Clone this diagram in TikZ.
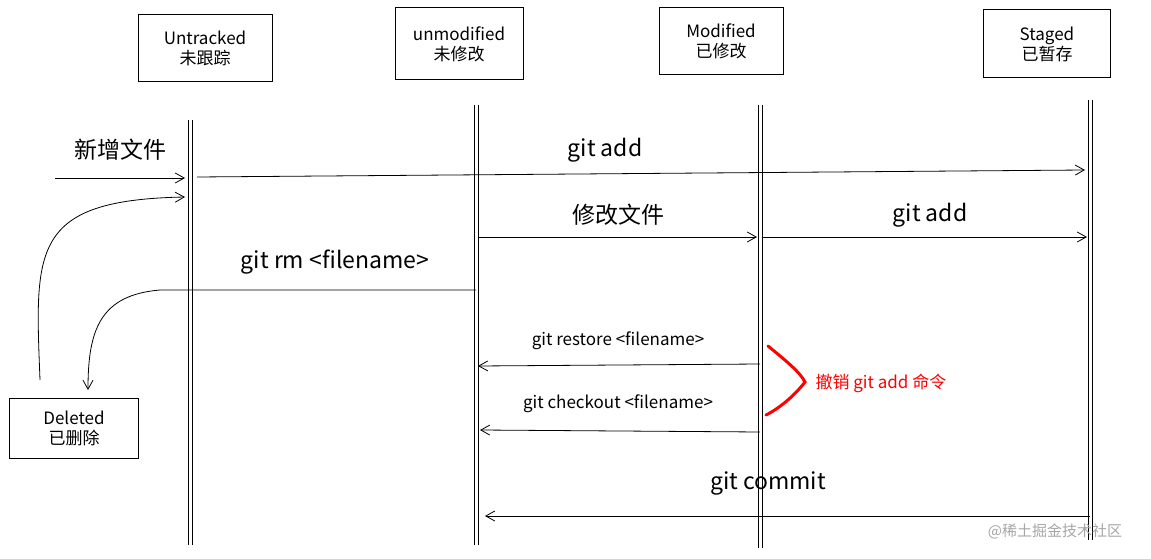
\documentclass[tikz,border=0pt]{standalone}
\usepackage{fontspec}
\setmainfont{Noto Sans CJK SC}
\usetikzlibrary{arrows.meta}
\begin{document}
\begin{tikzpicture}[x=1pt,y=-1pt,
  box/.style={draw,line width=1pt,align=center,font=\fontsize{17}{20}\selectfont,inner sep=0pt},
  life/.style={line width=1.1pt},
  msg/.style={line width=0.8pt,-{Straight Barb[length=9pt,width=10pt]}},
  lab/.style={font=\fontsize{23}{25}\selectfont},
  slab/.style={font=\fontsize{17}{19}\selectfont}]
\useasboundingbox (0,0) rectangle (1151,559);
\node[box,minimum width=134pt,minimum height=67pt] (ut) at (205,48) {Untracked\\未跟踪};
\node[box,minimum width=128pt,minimum height=72pt] (um) at (459,44) {unmodified\\未修改};
\node[box,minimum width=124pt,minimum height=67pt] (md) at (721,41) {Modified\\已修改};
\node[box,minimum width=127pt,minimum height=68pt] (st) at (1047,44) {Staged\\已暂存};
\node[box,minimum width=129pt,minimum height=60pt] (dl) at (74,428) {Deleted\\已删除};
% lifelines
\coordinate (l1a) at (190,120); \coordinate (l1b) at (190,545);
\coordinate (l2a) at (476,105); \coordinate (l2b) at (476,545);
\coordinate (l3a) at (760,105); \coordinate (l3b) at (760,548);
\coordinate (l4a) at (1090,100); \coordinate (l4b) at (1090,540);
\foreach \a/\b in {l1a/l1b,l2a/l2b,l3a/l3b,l4a/l4b}{
  \draw[life] ([xshift=-1.5pt]\a) -- ([xshift=-1.5pt]\b);
  \draw[line width=0.6pt] ([xshift=2pt]\a) -- ([xshift=2pt]\b);}
% arrows
\coordinate (n0) at (55,178); \coordinate (n1) at (185,178);
\draw[msg] (n0) -- (n1);
\node[lab] (tnew) at (120,150) {新增文件};
\coordinate (a0) at (197,177); \coordinate (a1) at (1085,170);
\draw[msg] (a0) -- (a1);
\node[lab] (tadd1) at (605,150) {git add};
\coordinate (c0) at (40,380); \coordinate (c1) at (185,197);
\draw[msg] (c0) .. controls (35,250) and (30,200) .. (c1);
\coordinate (m0) at (478,237); \coordinate (m1) at (757,237);
\draw[msg] (m0) -- (m1);
\node[lab] (tmod) at (618,215) {修改文件};
\coordinate (s0) at (763,237); \coordinate (s1) at (1087,237);
\draw[msg] (s0) -- (s1);
\node[lab] (tadd2) at (930,215) {git add};
\coordinate (r0) at (476,290); \coordinate (r1) at (88,390);
\draw[msg] (r0) -- (160,290) .. controls (100,295) and (88,330) .. (r1);
\node[lab] (trm) at (335,262) {git rm <filename>};
\coordinate (g0) at (760,364); \coordinate (g1) at (478,366);
\draw[msg] (g0) -- (g1);
\node[slab] (trs) at (618,341) {git restore <filename>};
\coordinate (k0) at (760,432); \coordinate (k1) at (480,430);
\draw[msg] (k0) -- (k1);
\node[slab] (tco) at (618,404) {git checkout <filename>};
\coordinate (o0) at (1090,516); \coordinate (o1) at (485,516);
\draw[msg] (o0) -- (o1);
\node[lab] (tcm) at (768,483) {git commit};
% brace
\draw[red,line width=3pt,line cap=round] (768,346) .. controls (785,360) and (800,372) .. (805,382)
  .. controls (795,395) and (780,408) .. (766,415);
\node[slab,text=red,anchor=west] (tundo) at (812,383) {撤销 git add 命令};
\node[font=\fontsize{15}{17}\selectfont,text=gray!70] (wm) at (1055,531) {@稀土掘金技术社区};
\end{tikzpicture}
\end{document}
